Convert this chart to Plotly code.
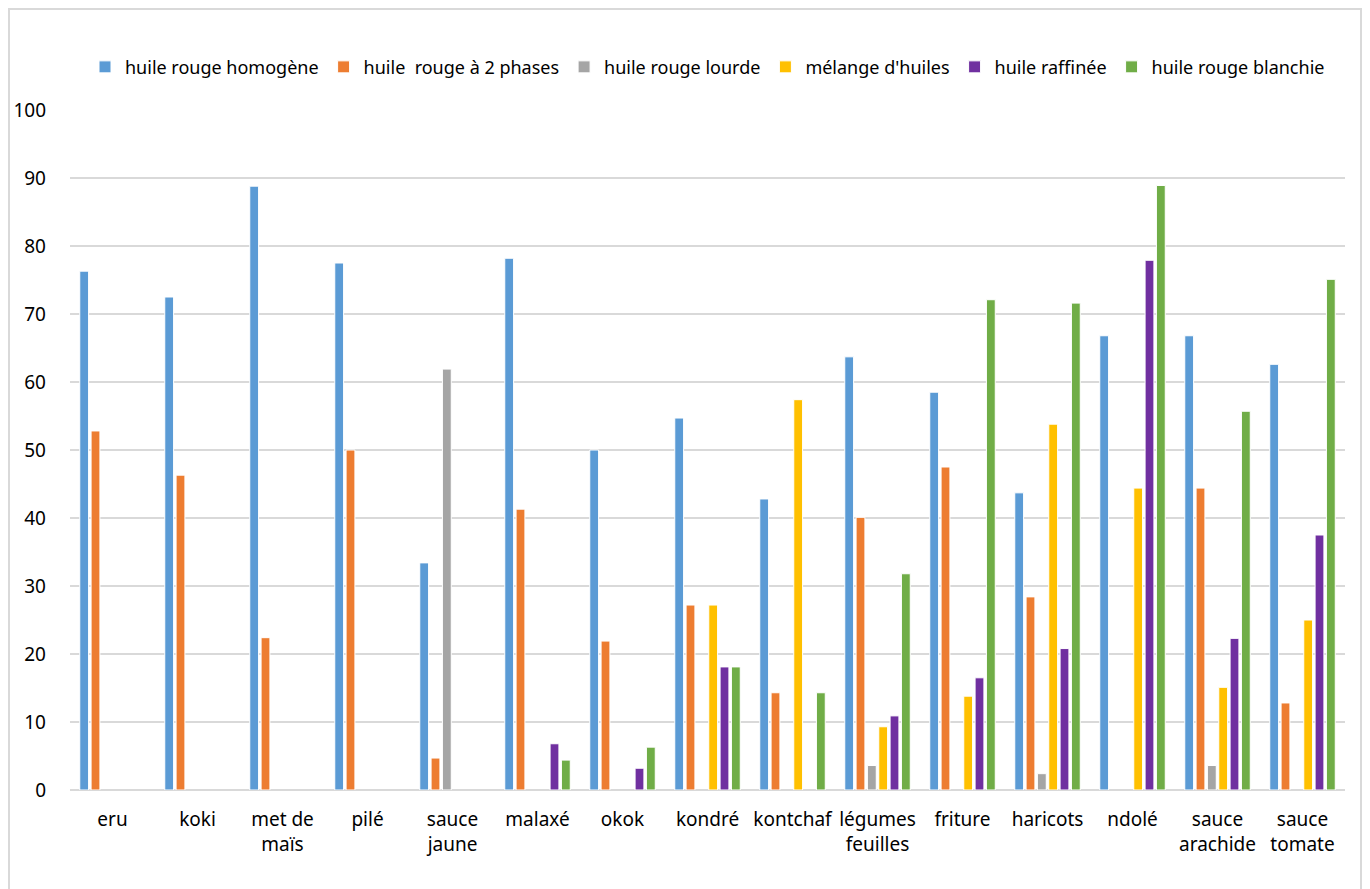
import plotly.graph_objects as go

categories = ["eru", "koki", "met de<br>maïs", "pilé", "sauce<br>jaune", "malaxé", "okok",
              "kondré", "kontchaf", "légumes<br>feuilles", "friture", "haricots", "ndolé",
              "sauce<br>arachide", "sauce<br>tomate"]

series_names = ["huile rouge homogène", "huile  rouge à 2 phases", "huile rouge lourde",
                "mélange d'huiles", "huile raffinée", "huile rouge blanchie"]

# None = no bar in the chart
homogene = [76.3, 72.5, 88.8, 77.5, 33.4, 78.2, 50.0, 54.7, 42.8, 63.7, 58.5, 43.7, 66.8, 66.8, 62.6]
deux_phases = [52.8, 46.3, 22.4, 50.0, 4.7, 41.3, 21.9, 27.2, 14.3, 40.1, 47.5, 28.4, None, 44.4, 12.8]
lourde = [None, None, None, None, 61.9, None, None, None, None, 3.6, None, 2.4, None, 3.6, None]
melange = [None, None, None, None, None, None, None, 27.2, 57.4, 9.3, 13.8, 53.8, 44.4, 15.1, 25.0]
raffinee = [None, None, None, None, None, 6.8, 3.2, 18.1, None, 10.9, 16.5, 20.8, 77.9, 22.3, 37.5]
blanchie = [None, None, None, None, None, 4.4, 6.3, 18.1, 14.3, 31.8, 72.1, 71.6, 88.9, 55.7, 75.1]

colors = ["#5B9BD5", "#ED7D31", "#A5A5A5", "#FFC000", "#7030A0", "#70AD47"]

fig = go.Figure()
for name, vals, col in zip(series_names,
                           [homogene, deux_phases, lourde, melange, raffinee, blanchie],
                           colors):
    fig.add_trace(go.Bar(x=categories, y=vals, name=name,
                         marker=dict(color=col, line=dict(color="white", width=1))))

# page body adds an 8px margin, so the figure is drawn 8px smaller and offset
fig.update_layout(
    width=1362, height=881,
    paper_bgcolor="white", plot_bgcolor="white",
    font=dict(family="Noto Sans", size=19, color="#000000"),
    margin=dict(l=62, r=25, t=102, b=99),
    barmode="group", bargap=0.2, bargroupgap=0.22,
    legend=dict(orientation="h", x=0.5, xanchor="center",
                y=1.063, yanchor="middle", font=dict(size=18), itemwidth=30,
                traceorder="normal"),
    showlegend=True,
)
fig.update_yaxes(range=[0, 100], dtick=10, showgrid=True, gridcolor="#d9d9d9", gridwidth=2,
                 zeroline=True, zerolinecolor="#d9d9d9", zerolinewidth=2,
                 ticks="", ticklabelstandoff=23, automargin=False)
fig.update_xaxes(showline=False, ticks="", tickangle=0, ticklabelstandoff=16, automargin=False)

fig.add_shape(type="rect", xref="paper", yref="paper",
              x0=(1 - 62) / 1275, x1=(1353 - 62) / 1275,
              y0=(782 - 890) / 680, y1=(782 - 1) / 680,
              line=dict(color="#d9d9d9", width=2), fillcolor="rgba(0,0,0,0)", layer="below")

fig.write_html("out.html")
